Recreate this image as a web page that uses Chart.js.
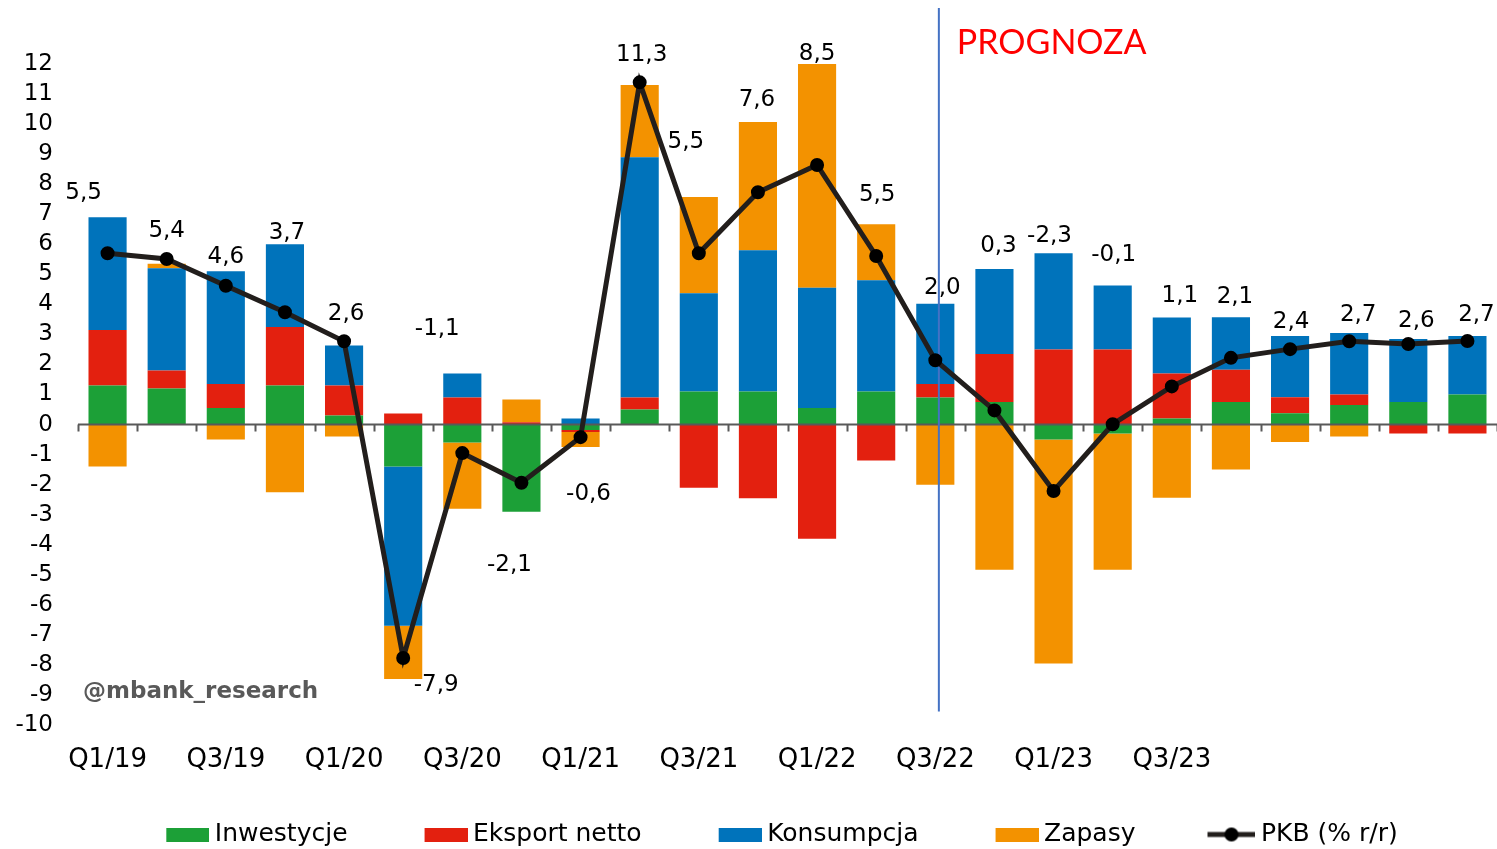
<!DOCTYPE html>
<html lang="pl">
<head>
    <meta charset="UTF-8">
    <title>PKB - dekompozycja</title>
    <script src="https://cdn.jsdelivr.net/npm/chart.js@4.4.1/dist/chart.umd.min.js"></script>
    <style>
        html, body {
            margin: 0;
            padding: 0;
            background: #fff;
        }

        .chart-box {
            width: 1497px;
            height: 849px;
            position: relative;
        }
    </style>
</head>
<body>
    <div class="chart-box">
        <canvas id="gdpChart"></canvas>
    </div>

    <script>
        // Data
        const quarters = [
            'Q1/19', 'Q2/19', 'Q3/19', 'Q4/19', 'Q1/20', 'Q2/20', 'Q3/20', 'Q4/20',
            'Q1/21', 'Q2/21', 'Q3/21', 'Q4/21', 'Q1/22', 'Q2/22', 'Q3/22', 'Q4/22',
            'Q1/23', 'Q2/23', 'Q3/23', 'Q4/23', 'Q1/24', 'Q2/24', 'Q3/24', 'Q4/24'
        ];
        const xTickLabels = [
            'Q1/19', '', 'Q3/19', '', 'Q1/20', '', 'Q3/20', '',
            'Q1/21', '', 'Q3/21', '', 'Q1/22', '', 'Q3/22', '',
            'Q1/23', '', 'Q3/23', '', '', '', '', ''
        ];
        const inwestycje = [1.3, 1.2, 0.55, 1.3, 0.3, -1.4, -0.6, -2.9, -0.18, 0.5, 1.1, 1.1,
                            0.55, 1.1, 0.9, 0.75, -0.5, -0.3, 0.2, 0.75, 0.38, 0.65, 0.75, 1.0];
        const eksportNetto = [1.85, 0.6, 0.8, 1.95, 1.0, 0.37, 0.9, 0.08, -0.07, 0.4, -2.1, -2.45,
                              -3.8, -1.2, 0.45, 1.6, 2.5, 2.5, 1.5, 1.07, 0.53, 0.35, -0.3, -0.3];
        const konsumpcja = [3.75, 3.4, 3.75, 2.75, 1.33, -5.3, 0.8, 0, 0.2, 8.0, 3.27, 4.7,
                            4.0, 3.7, 2.67, 2.83, 3.2, 2.13, 1.86, 1.75, 2.04, 2.05, 2.1, 1.95];
        const zapasy = [-1.4, 0.15, -0.5, -2.25, -0.4, -1.77, -2.2, 0.75, -0.5, 2.4, 3.2, 4.27,
                        7.45, 1.87, -2.0, -4.83, -7.45, -4.53, -2.44, -1.5, -0.58, -0.4, 0, 0];
        const pkb = [5.7, 5.51, 4.62, 3.74, 2.77, -7.77, -0.95, -1.94, -0.42, 11.39, 5.7, 7.73,
                     8.64, 5.61, 2.14, 0.47, -2.21, 0.01, 1.27, 2.22, 2.51, 2.77, 2.68, 2.78];
        const pkbLabels = ['5,5', '5,4', '4,6', '3,7', '2,6', '-7,9', '-1,1', '-2,1', '-0,6', '11,3', '5,5', '7,6',
                           '8,5', '5,5', '2,0', '0,3', '-2,3', '-0,1', '1,1', '2,1', '2,4', '2,7', '2,6', '2,7'];
        const yTicks = { min: -10, max: 12, step: 1 };
        const forecastFrom = 'Q3/22';

        const FONT = 'DejaVu Sans';
        const colors = {
            inwestycje: '#1CA037',
            eksport: '#E3200F',
            konsumpcja: '#0073BB',
            zapasy: '#F39200',
            pkb: '#221E1C'
        };

        // where each PKB label sits relative to its point (px), set by hand like in the source
        const labelOffsets = [
            [-24, -60], [0, -28], [0, -29], [2, -79], [2, -27], [33, 27], [-25, -124], [-12, 82],
            [8, 57], [2, -27], [-13, -111], [-1, -92], [0, -111], [1, -61], [7, -72], [4, -164],
            [-4, -255], [1, -169], [8, -90], [4, -61], [1, -27], [9, -26], [8, -23], [9, -26]
        ];

        // legend swatches: transparent lead-in so the items get spread like in the original
        const BOX_W = 103;
        function swatch(color) {
            const c = document.createElement('canvas');
            c.width = BOX_W + 14;
            c.height = 14;
            const g = c.getContext('2d');
            g.fillStyle = color;
            g.fillRect(c.width - 43, 0, 43, 14);
            return c;
        }
        function lineSwatch(color) {
            const c = document.createElement('canvas');
            c.width = BOX_W + 14;
            c.height = 16;
            const g = c.getContext('2d');
            g.strokeStyle = color;
            g.lineWidth = 5;
            g.beginPath();
            g.moveTo(c.width - 48, 8);
            g.lineTo(c.width, 8);
            g.stroke();
            g.fillStyle = '#000';
            g.beginPath();
            g.arc(c.width - 24, 8, 7, 0, Math.PI * 2);
            g.fill();
            return c;
        }

        function forecastX(chart) {
            const x = chart.scales.x;
            const step = (x.right - x.left) / quarters.length;
            return x.getPixelForValue(quarters.indexOf(forecastFrom)) + 0.06 * step;
        }

        const overlay = {
            id: 'overlay',
            beforeDatasetDraw(chart, args) {
                if (args.meta.type !== 'line') return;
                const ctx = chart.ctx;
                const x = chart.scales.x;
                const y = chart.scales.y;
                const y0 = y.getPixelForValue(0);
                const step = (x.right - x.left) / quarters.length;
                ctx.save();
                ctx.strokeStyle = '#595959';
                ctx.lineWidth = 2;
                ctx.beginPath();
                ctx.moveTo(x.left, y0);
                ctx.lineTo(x.right, y0);
                for (let i = 0; i <= quarters.length; i++) {
                    const px = Math.round(x.left + i * step) + 0.5;
                    ctx.moveTo(px, y0);
                    ctx.lineTo(px, y0 + 7);
                }
                ctx.stroke();

                // forecast divider
                const fx = forecastX(chart);
                ctx.strokeStyle = '#4472C4';
                ctx.lineWidth = 2;
                ctx.beginPath();
                ctx.moveTo(fx, 8);
                ctx.lineTo(fx, y.getPixelForValue(-9.55));
                ctx.stroke();
                ctx.restore();
            },
            afterDatasetsDraw(chart) {
                const ctx = chart.ctx;
                const meta = chart.getDatasetMeta(4);
                ctx.save();
                ctx.font = '23px "' + FONT + '"';
                ctx.fillStyle = '#000';
                ctx.textAlign = 'center';
                ctx.textBaseline = 'middle';
                meta.data.forEach((pt, i) => {
                    const off = labelOffsets[i];
                    ctx.fillText(pkbLabels[i], pt.x + off[0], pt.y + off[1]);
                });
                ctx.restore();
            },
            afterDraw(chart) {
                const ctx = chart.ctx;
                const fx = forecastX(chart);
                ctx.save();
                ctx.fillStyle = '#FF0000';
                ctx.font = '34px Lato';
                ctx.textAlign = 'left';
                ctx.textBaseline = 'alphabetic';
                ctx.fillText('PROGNOZA', fx + 18, 54);

                ctx.fillStyle = '#595959';
                ctx.font = 'bold 23px "' + FONT + '"';
                ctx.textBaseline = 'middle';
                ctx.fillText('@mbank_research', chart.scales.x.left + 5, chart.scales.y.getPixelForValue(-8.9));
                ctx.restore();
            }
        };

        const barDefaults = {
            type: 'bar',
            stack: 'gdp',
            order: 1,
            borderWidth: 0,
            categoryPercentage: 1,
            barPercentage: 0.645
        };

        new Chart(document.getElementById('gdpChart'), {
            data: {
                labels: quarters,
                datasets: [
                    { ...barDefaults, label: 'Inwestycje', data: inwestycje, backgroundColor: colors.inwestycje },
                    { ...barDefaults, label: 'Eksport netto', data: eksportNetto, backgroundColor: colors.eksport },
                    { ...barDefaults, label: 'Konsumpcja', data: konsumpcja, backgroundColor: colors.konsumpcja },
                    { ...barDefaults, label: 'Zapasy', data: zapasy, backgroundColor: colors.zapasy },
                    {
                        type: 'line',
                        label: 'PKB (% r/r)',
                        data: pkb,
                        stack: 'pkb',
                        order: 0,
                        borderColor: colors.pkb,
                        borderWidth: 5,
                        pointRadius: 6,
                        pointBorderWidth: 2,
                        pointBackgroundColor: '#000',
                        pointBorderColor: '#000',
                        tension: 0
                    }
                ]
            },
            options: {
                responsive: true,
                maintainAspectRatio: false,
                animation: false,
                layout: {
                    autoPadding: false,
                    padding: { top: 64, bottom: -8, left: 0, right: 0 }
                },
                scales: {
                    x: {
                        stacked: true,
                        grid: { display: false, drawTicks: false },
                        border: { display: false },
                        ticks: {
                            autoSkip: false,
                            maxRotation: 0,
                            padding: 20,
                            color: '#000',
                            font: { family: FONT, size: 26 },
                            callback: (val, i) => xTickLabels[i]
                        },
                        afterFit(scale) {
                            scale.height = 87;
                            scale.paddingLeft = 0;
                            scale.paddingRight = 0;
                        }
                    },
                    y: {
                        stacked: true,
                        min: yTicks.min,
                        max: yTicks.max,
                        grid: { display: false, drawTicks: false },
                        border: { display: false },
                        ticks: {
                            stepSize: yTicks.step,
                            autoSkip: false,
                            padding: 25,
                            color: '#000',
                            font: { family: FONT, size: 23 }
                        },
                        afterFit(scale) { scale.width = 78; }
                    }
                },
                plugins: {
                    tooltip: { enabled: false },
                    legend: {
                        position: 'bottom',
                        labels: {
                            usePointStyle: true,
                            pointStyleWidth: BOX_W,
                            padding: 10,
                            color: '#000',
                            font: { family: FONT, size: 25 },
                            sort: (a, b) => a.datasetIndex - b.datasetIndex,
                            generateLabels(chart) {
                                const items = Chart.defaults.plugins.legend.labels.generateLabels(chart);
                                items.forEach(item => {
                                    const ds = chart.data.datasets[item.datasetIndex];
                                    item.pointStyle = ds.type === 'line'
                                        ? lineSwatch(ds.borderColor)
                                        : swatch(ds.backgroundColor);
                                });
                                return items;
                            }
                        }
                    }
                }
            },
            plugins: [overlay]
        });
    </script>
</body>
</html>
